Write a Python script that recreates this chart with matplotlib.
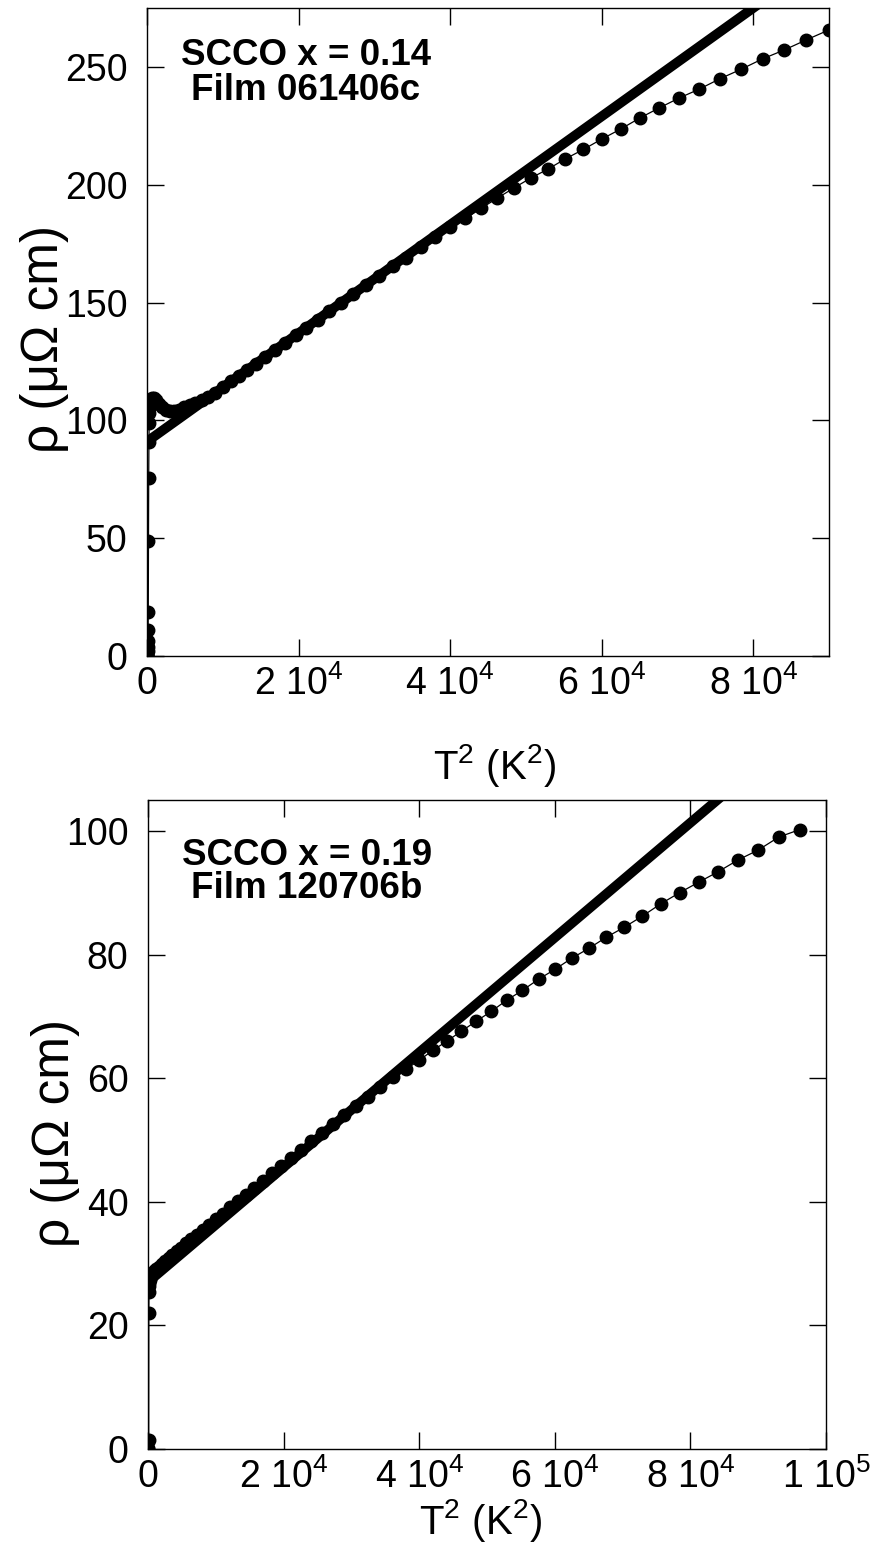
import numpy as np
import matplotlib
matplotlib.use("Agg")
import matplotlib.pyplot as plt

plt.rcParams['font.family'] = ['Liberation Sans', 'DejaVu Sans']
plt.rcParams['mathtext.fontset'] = 'custom'
plt.rcParams['mathtext.rm'] = 'Liberation Sans'
plt.rcParams['mathtext.default'] = 'regular'

# x = 0.14, film 061406c : T (K) and rho (uOhm cm)
T_a = [5, 6, 7, 8, 9, 10, 11, 12, 13, 14, 15, 16, 17, 18, 19, 20,
       25, 30, 35, 40, 45, 50, 55, 60, 65, 70, 75, 80, 85, 90, 95, 100,
       105, 110, 115, 120, 125, 130, 135, 140, 145, 150, 155, 160, 165, 170,
       175, 180, 185, 190, 195, 200, 205, 210, 215, 220, 225, 230, 235, 240,
       245, 250, 255, 260, 265, 270, 275, 280, 285, 290, 295, 300]
rho_a = [0.0, 0.0, 0.3, 1.0, 2.0, 4.0, 6.5, 11.0, 18.7, 49.0, 75.7, 91.0, 99.0, 103.0, 106.0, 108.0,
         109.5, 109.5, 108.5, 107.0, 105.5, 104.5, 104.0, 104.0, 104.5, 105.5, 106.5, 107.5, 108.5, 110.0, 111.8, 114.3,
         116.7, 119.0, 121.5, 124.1, 126.9, 129.9, 132.9, 136.1, 139.4, 142.8, 146.3, 149.9, 153.6, 157.5,
         161.3, 165.3, 169.0, 173.5, 177.7, 182.0, 185.8, 190.0, 194.3, 198.6, 202.8, 206.6, 211.0, 215.0,
         219.4, 223.6, 228.3, 232.6, 236.8, 240.6, 245.0, 249.0, 253.4, 257.2, 261.5, 265.7]
fit_a = (91.0, 0.0023)   # rho0, slope per K^2

# x = 0.19, film 120706b
T_b = [5, 8, 10, 11, 12, 13, 14, 15, 20, 25, 30, 35, 40, 45, 50, 55, 60, 65, 70,
       75, 80, 85, 90, 95, 100, 105, 110, 115, 120, 125, 130, 135, 140, 145, 150,
       155, 160, 165, 170, 175, 180, 185, 190, 195, 200, 205, 210, 215, 220, 225,
       230, 235, 240, 245, 250, 255, 260, 265, 270, 275, 280, 285, 290, 295, 300,
       305, 310]
rho_b = [0.0, 0.2, 1.5, 22.0, 25.4, 26.3, 26.8, 27.4, 28.0, 28.4, 28.8, 29.1, 29.5, 29.9, 30.4, 30.9, 31.4, 32.0, 32.6,
         33.3, 34.0, 34.7, 35.5, 36.3, 37.2, 38.1, 39.1, 40.1, 41.1, 42.2, 43.4, 44.6, 45.8, 47.1, 48.4,
         49.8, 51.2, 52.6, 54.0, 55.5, 57.0, 58.6, 60.2, 61.4, 62.9, 64.5, 66.0, 67.6, 69.2, 70.8,
         72.6, 74.2, 76.0, 77.6, 79.4, 81.0, 82.8, 84.4, 86.2, 88.2, 90.0, 91.7, 93.4, 95.3, 96.9,
         99.0, 100.2]
fit_b = (27.0, 0.000929)

panels = [
    dict(T=T_a, rho=rho_a, fit=fit_a, xmax=9e4, ymax=275,
         xticks=[0, 2e4, 4e4, 6e4, 8e4],
         xlabels=['0', r'2 10$^{4}$', r'4 10$^{4}$', r'6 10$^{4}$', r'8 10$^{4}$'],
         yticks=[0, 50, 100, 150, 200, 250],
         text=['SCCO x = 0.14', 'Film 061406c'],
         rect=[147/876, 1-656/1547, 682/876, 648/1547],
         tpos=(0.233, 0.912, 0.858), ylab=(-0.115, 0.489), xlab=(0.51, -0.133)),
    dict(T=T_b, rho=rho_b, fit=fit_b, xmax=1e5, ymax=105,
         xticks=[0, 2e4, 4e4, 6e4, 8e4, 1e5],
         xlabels=['0', r'2 10$^{4}$', r'4 10$^{4}$', r'6 10$^{4}$', r'8 10$^{4}$', r'1 10$^{5}$'],
         yticks=[0, 20, 40, 60, 80, 100],
         text=['SCCO x = 0.19', 'Film 120706b'],
         rect=[148/876, 1-1449/1547, 678/876, 649/1547],
         tpos=(0.2345, 0.900, 0.849), ylab=(-0.100, 0.487), xlab=(0.49, -0.074)),
]

fig = plt.figure(figsize=(8.76, 15.47), dpi=100)

for p in panels:
    ax = fig.add_axes(p['rect'])
    T2 = np.array(p['T'], dtype=float) ** 2
    rho0, slope = p['fit']
    xf = np.array([0, p['xmax']])
    ax.plot(xf, rho0 + slope * xf, color='black', lw=7, solid_capstyle='round')
    ax.plot(T2, p['rho'], '-o', color='black', lw=0.9, ms=9)

    ax.set_xlim(0, p['xmax'])
    ax.set_ylim(0, p['ymax'])
    ax.set_xticks(p['xticks'])
    ax.set_xticklabels(p['xlabels'])
    ax.set_yticks(p['yticks'])
    ax.tick_params(direction='in', length=12, width=1, top=True, right=True)
    ax.tick_params(axis='x', labelsize=27, pad=7)
    ax.tick_params(axis='y', labelsize=27, pad=14)
    for s in ax.spines.values():
        s.set_linewidth(1.0)

    ax.set_ylabel(r'ρ (μΩ cm)', fontsize=37)
    ax.yaxis.set_label_coords(*p['ylab'])
    ax.set_xlabel(r'T$^{2}$ (K$^{2}$)', fontsize=29)
    ax.xaxis.set_label_coords(*p['xlab'])

    x0, y1, y2 = p['tpos']
    ax.text(x0, y1, p['text'][0], transform=ax.transAxes, ha='center', va='baseline',
            fontsize=26.5, fontweight='bold')
    ax.text(x0, y2, p['text'][1], transform=ax.transAxes, ha='center', va='baseline',
            fontsize=26.5, fontweight='bold')

fig.savefig('out.png', dpi=100)
